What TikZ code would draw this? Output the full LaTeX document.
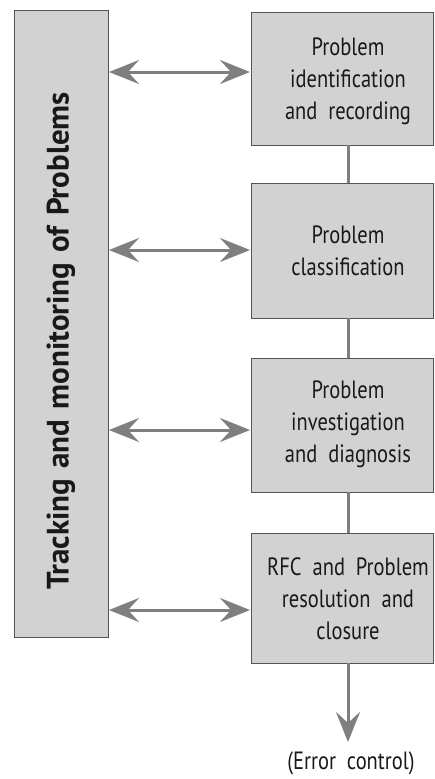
\documentclass[tikz,border=0pt]{standalone}
\usepackage{fontspec}
\setmainfont[FakeStretch=0.82,WordSpace=2]{PT Sans}
\newfontfamily\sidefont[WordSpace=1.3]{PT Sans}
\usetikzlibrary{arrows.meta}
\definecolor{boxfill}{HTML}{D2D2D2}
\definecolor{boxline}{HTML}{555555}
\definecolor{arrowgray}{HTML}{7F7F7F}
\begin{document}
\begin{tikzpicture}[x=1pt,y=-1pt,
  stagebox/.style={draw=boxline,fill=boxfill,line width=1pt},
  label/.style={align=center,font=\fontsize{25}{32}\selectfont,text=black!90},
  link/.style={draw=arrowgray,line width=3pt},
  head/.tip={Stealth[length=30pt,width=24pt,inset=11pt]},
  twoway/.style={link,head-head},
  oneway/.style={link,-head}]
\useasboundingbox (0,0) rectangle (434,779);
% tracking column
\path[stagebox] (14,10) rectangle (108,637);
\node[rotate=90,font=\sidefont\bfseries\fontsize{31}{35}\selectfont,text=black!90] (track) at (61,341) {Tracking and monitoring of Problems};
\coordinate (tr1) at (109,72);
\coordinate (tr2) at (109,250);
\coordinate (tr3) at (109,430);
\coordinate (tr4) at (109,610);
% process stages
\path[stagebox] (251,12) rectangle (433,145);
\node[label] (s1) at (348,81) {Problem\\identification\\and recording};
\path[stagebox] (251,183) rectangle (433,318);
\node[label] (s2) at (348,251) {Problem\\classification};
\path[stagebox] (251,358) rectangle (433,492);
\node[label] (s3) at (348,424) {Problem\\investigation\\and diagnosis};
\path[stagebox] (251,533) rectangle (433,663);
\node[label] (s4) at (348,599) {RFC and Problem\\resolution and\\closure};
\coordinate (b1) at (348,145);
\coordinate (t2) at (348,183);
\coordinate (b2) at (348,318);
\coordinate (t3) at (348,358);
\coordinate (b3) at (348,492);
\coordinate (t4) at (348,533);
\coordinate (b4) at (348,663);
\coordinate (e4) at (348,742);
\coordinate (l1) at (250,72);
\coordinate (l2) at (250,250);
\coordinate (l3) at (250,430);
\coordinate (l4) at (250,610);
\node[label] (err) at (351,763) {(Error control)};
% connectors
\draw[link] (b1) -- (t2);
\draw[link] (b2) -- (t3);
\draw[link] (b3) -- (t4);
\draw[oneway] (b4) -- (e4);
\draw[twoway] (tr1) -- (l1);
\draw[twoway] (tr2) -- (l2);
\draw[twoway] (tr3) -- (l3);
\draw[twoway] (tr4) -- (l4);
\end{tikzpicture}
\end{document}
